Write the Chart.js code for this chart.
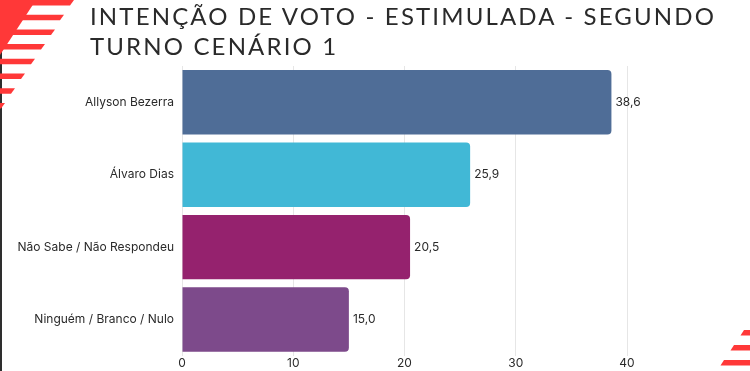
<!DOCTYPE html>
<html>
<head>
<meta charset="utf-8">
<script src="https://cdn.jsdelivr.net/npm/chart.js@4"></script>
<style>
  body { margin: 0; background: #fff; }
  #wrap { position: relative; width: 750px; height: 371px; overflow: hidden; }
  #title {
    position: absolute; left: 90px; top: 1px; margin: 0;
    font-family: Lato, sans-serif; font-weight: 400; font-size: 24px;
    line-height: 30px; letter-spacing: 2.15px; color: #2a2a2a;
  }
  #deco { position: absolute; left: 0; top: 0; }
  canvas { position: absolute; left: 0; top: 0; }
</style>
</head>
<body>
<div id="wrap">
  <canvas id="voto_chart" width="750" height="371"></canvas>
  <svg id="deco" width="750" height="371">
    <rect x="0" y="0" width="2" height="371" fill="#2e2e2e"/>
    <g fill="#ff3838">
      <polygon points="0,0 36,0 0,55"/>
      <polygon points="0,0 74,0 70,5.5 0,5.5"/>
      <polygon points="0,14.7 64,14.7 60,20.2 0,20.2"/>
      <polygon points="0,29.4 55,29.4 51,34.9 0,34.9"/>
      <polygon points="0,44.1 45,44.1 41,49.6 0,49.6"/>
      <polygon points="0,58.8 35,58.8 31,64.3 0,64.3"/>
      <polygon points="0,73.5 25,73.5 21,79 0,79"/>
      <polygon points="0,88.2 15,88.2 11,93.7 0,93.7"/>
      <polygon points="0,102.9 5,102.9 1,108.4 0,108.4"/>
      <polygon points="744,330 750,330 750,335.5 740.5,335.5"/>
      <polygon points="734,345 750,345 750,350.5 730.5,350.5"/>
      <polygon points="724,360 750,360 750,365.5 720.5,365.5"/>
    </g>
  </svg>
  <h1 id="title">INTENÇÃO DE VOTO - ESTIMULADA - SEGUNDO<br>TURNO CENÁRIO 1</h1>
</div>
<script>
const categories = [
    'Allyson Bezerra',
    'Álvaro Dias',
    'Não Sabe / Não Respondeu',
    'Ninguém / Branco / Nulo'
];

const votes = [38.6, 25.9, 20.5, 15.0];

const barColors = ['#4f6d97', '#41b8d6', '#95226e', '#7d4a8b'];

const xTicks = [0, 10, 20, 30, 40];

// value labels at the end of each bar, "38,6" style
const valueLabels = {
    id: 'valueLabels',
    afterDatasetsDraw(chart) {
        const ctx = chart.ctx;
        const meta = chart.getDatasetMeta(0);
        ctx.save();
        ctx.font = '12px Inter, sans-serif';
        ctx.fillStyle = '#2a2a2a';
        ctx.textAlign = 'left';
        ctx.textBaseline = 'middle';
        meta.data.forEach((bar, i) => {
            const txt = votes[i].toFixed(1).replace('.', ',');
            ctx.fillText(txt, bar.x + 4, bar.y);
        });
        ctx.restore();
    }
};

const ctx = document.getElementById('voto_chart').getContext('2d');
const voto_chart = new Chart(ctx, {
    type: 'bar',
    data: {
        labels: categories,
        datasets: [{
            data: votes,
            backgroundColor: barColors,
            borderRadius: 4,
            categoryPercentage: 1,
            barPercentage: 0.89
        }]
    },
    options: {
        indexAxis: 'y',
        responsive: false,
        animation: false,
        layout: { padding: { top: 66, right: 123, bottom: 0, left: 0 } },
        plugins: {
            legend: { display: false },
            tooltip: { enabled: false }
        },
        scales: {
            x: {
                min: xTicks[0],
                max: xTicks[xTicks.length - 1],
                afterBuildTicks: (scale) => { scale.ticks = xTicks.map(v => ({ value: v })); },
                grid: { color: '#e6e6e6', drawTicks: false },
                border: { display: false },
                ticks: { padding: 0, color: '#2a2a2a', font: { family: 'Inter', size: 12 } },
                afterFit: (scale) => { scale.height = 14; }
            },
            y: {
                grid: { display: false, drawTicks: false },
                border: { display: false },
                ticks: { padding: 8, color: '#2a2a2a', font: { family: 'Inter', size: 12 } },
                afterFit: (scale) => { scale.width = 182; }
            }
        }
    },
    plugins: [valueLabels]
});
</script>
</body>
</html>
